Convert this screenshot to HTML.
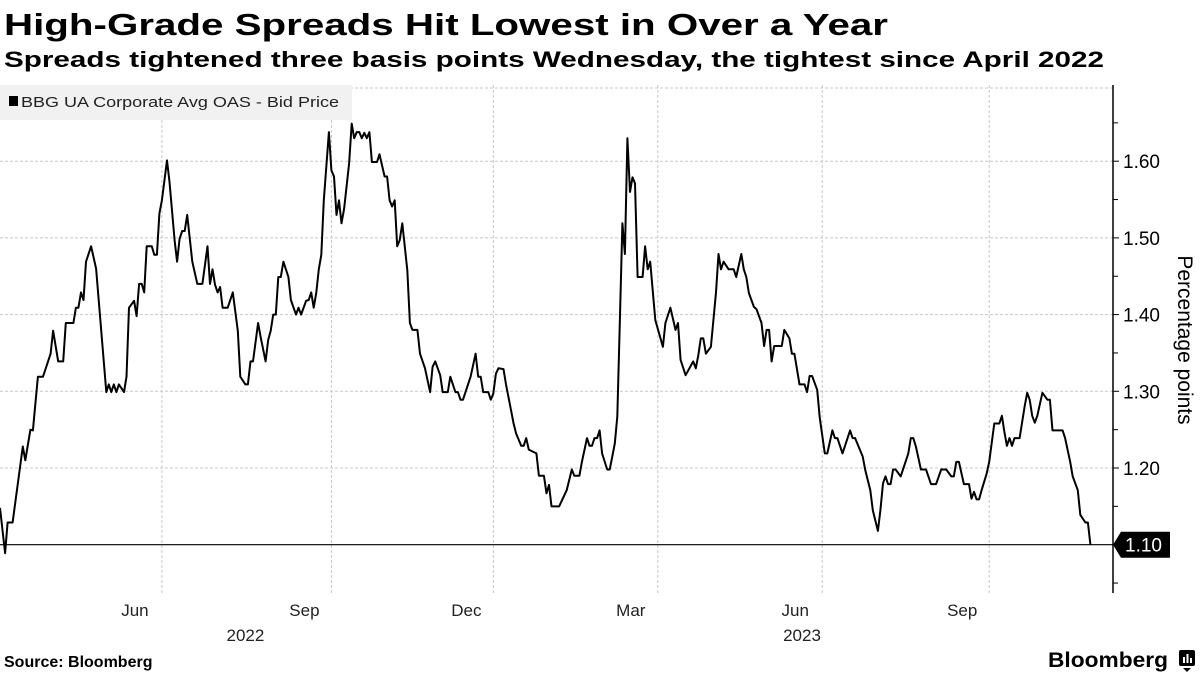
<!DOCTYPE html>
<html><head><meta charset="utf-8"><style>
html,body{margin:0;padding:0;background:#fff;}
svg{display:block;font-family:"Liberation Sans","DejaVu Sans",sans-serif;}
</style></head><body>
<svg id="chart" width="1200" height="675" viewBox="0 0 1200 675" xmlns="http://www.w3.org/2000/svg">
<text x="4" y="35" font-size="31" font-weight="bold" textLength="884" lengthAdjust="spacingAndGlyphs" fill="#000">High-Grade Spreads Hit Lowest in Over a Year</text>
<text x="4" y="67" font-size="22" font-weight="bold" textLength="1100" lengthAdjust="spacingAndGlyphs" fill="#000">Spreads tightened three basis points Wednesday, the tightest since April 2022</text>
<g id="grid"></g>
<rect x="0" y="85" width="352" height="35" fill="#f1f1f1"/>
<rect x="9" y="96" width="9" height="10" fill="#000"/>
<text x="21" y="107" font-size="15" fill="#222" textLength="318" lengthAdjust="spacingAndGlyphs">BBG UA Corporate Avg OAS - Bid Price</text>
<g id="axes"></g>
<path id="line" fill="none" stroke="#000" stroke-width="2" stroke-linejoin="round"/>
<g id="lastlabel"></g>
<text transform="translate(1178,340) rotate(90)" text-anchor="middle" font-size="21" fill="#000">Percentage points</text>
<text x="4" y="667" font-size="16" font-weight="bold" fill="#000">Source: Bloomberg</text>
<text x="1048" y="667" font-size="21" font-weight="bold" fill="#000" textLength="120" lengthAdjust="spacingAndGlyphs">Bloomberg</text>
<g><rect x="1179" y="650" width="16" height="16" rx="2" fill="#000"/><path d="M1183,668 L1187,672 L1191,668 Z" fill="#000"/><rect x="1183" y="657" width="2" height="6" fill="#fff"/><rect x="1186.5" y="654" width="2" height="9" fill="#fff"/><rect x="1190" y="658" width="2" height="5" fill="#fff"/></g>
</svg>
<script>
const days = [0,2,3,5,9,10,12,13,15,17,20,21,23,25,26,29,30,31,32,33,34,36,38,42,43,44,45,46,47,49,50,51,53,54,55,56,57,58,60,61,62,63,64,66,67,69,70,71,72,73,74,76,78,80,82,83,84,85,86,87,88,90,92,94,95,97,98,99,100,102,103,105,106,107,108,109,110,111,112,114,115,117,118,119,121,122,123,124,125,126,127,128,130,131,132,133,134,135,136,138,139,140,141,142,143,144,145,146,147,149,150,152,153,154,155,156,157,158,159,161,162,163,165,166,168,170,171,172,174,175,177,178,180,181,182,183,184,186,188,189,190,191,193,194,195,196,197,199,200,203,204,206,207,208,209,212,213,215,216,217,218,221,224,226,227,229,230,232,233,234,235,236,237,238,240,241,242,243,244,245,246,247,248,249,250,251,252,254,255,256,257,259,262,263,265,267,268,269,271,274,275,276,277,278,279,281,283,284,285,286,288,290,291,293,294,295,296,298,299,301,302,303,304,305,306,309,310,312,313,314,316,318,319,320,321,323,324,326,327,329,330,331,333,336,337,338,341,342,344,345,347,348,349,350,351,352,353,354,356,359,360,361,362,364,366,368,370,372,374,376,377,378,379,381,383,384,385,386,387,388,390,391,393,395,396,397,398,399,400,401,403,405,406,407,408,409,410,412,414,415,416,420,421,423,424,426,427,429,430,431];
const spread = [1.148,1.089,1.129,1.129,1.228,1.210,1.250,1.249,1.319,1.319,1.349,1.379,1.339,1.339,1.389,1.389,1.409,1.409,1.429,1.419,1.469,1.489,1.460,1.299,1.309,1.299,1.309,1.299,1.309,1.299,1.319,1.409,1.418,1.398,1.440,1.440,1.429,1.489,1.489,1.478,1.478,1.532,1.549,1.601,1.573,1.497,1.469,1.499,1.509,1.509,1.530,1.469,1.440,1.440,1.489,1.440,1.459,1.439,1.429,1.436,1.409,1.409,1.429,1.379,1.319,1.309,1.309,1.339,1.339,1.389,1.371,1.339,1.367,1.379,1.400,1.400,1.449,1.449,1.469,1.449,1.419,1.400,1.409,1.400,1.418,1.419,1.429,1.409,1.429,1.459,1.478,1.549,1.638,1.588,1.580,1.530,1.549,1.519,1.538,1.597,1.649,1.630,1.638,1.638,1.630,1.637,1.630,1.638,1.599,1.599,1.609,1.580,1.580,1.549,1.541,1.549,1.489,1.497,1.519,1.458,1.389,1.380,1.380,1.349,1.330,1.299,1.332,1.339,1.321,1.299,1.299,1.319,1.299,1.299,1.289,1.289,1.299,1.319,1.349,1.319,1.319,1.299,1.299,1.289,1.297,1.323,1.330,1.329,1.309,1.258,1.245,1.229,1.229,1.239,1.224,1.219,1.190,1.190,1.167,1.178,1.150,1.150,1.171,1.198,1.190,1.190,1.208,1.239,1.229,1.229,1.239,1.239,1.249,1.219,1.198,1.198,1.215,1.232,1.267,1.389,1.519,1.479,1.630,1.560,1.579,1.571,1.449,1.449,1.489,1.459,1.469,1.393,1.358,1.389,1.409,1.380,1.389,1.341,1.321,1.339,1.330,1.347,1.369,1.369,1.349,1.358,1.429,1.479,1.459,1.469,1.459,1.459,1.449,1.479,1.459,1.449,1.428,1.410,1.407,1.389,1.359,1.380,1.380,1.339,1.359,1.359,1.380,1.369,1.349,1.349,1.309,1.309,1.299,1.320,1.320,1.302,1.266,1.219,1.219,1.249,1.239,1.239,1.219,1.249,1.239,1.239,1.215,1.197,1.171,1.145,1.118,1.145,1.180,1.189,1.179,1.179,1.198,1.198,1.189,1.219,1.239,1.239,1.228,1.198,1.198,1.179,1.179,1.198,1.198,1.189,1.189,1.208,1.208,1.179,1.179,1.160,1.169,1.159,1.159,1.171,1.193,1.208,1.258,1.258,1.268,1.247,1.229,1.239,1.229,1.239,1.239,1.280,1.298,1.289,1.268,1.259,1.268,1.298,1.289,1.289,1.249,1.249,1.239,1.208,1.189,1.171,1.139,1.129,1.129,1.100];
const monthTicks = [64,131,195,260,325,391];
const monthLabels = ["Jun","Sep","Dec","Mar","Jun","Sep"];
const yearLabels = ["2022","2023"];
const yearLabelDays = [97,317];
const yTicks = [1.10,1.20,1.30,1.40,1.50,1.60];
const yMinorTicks = [1.05,1.15,1.25,1.35,1.45,1.55,1.65];

const NS="http://www.w3.org/2000/svg";
const xs = d => d*2.53;
const ys = v => 544.7-(v-1.10)*767;
const axisX=1113, plotTop=85, plotBottom=593;
function mk(tag, parent){const e=document.createElementNS(NS,tag);parent.appendChild(e);return e;}
const grid=document.getElementById('grid'), axes=document.getElementById('axes');
yTicks.forEach((t,i)=>{
  if(t>1.1001){
    const l=mk('line',grid);
    
    
    l.setAttribute('x1',0);l.setAttribute('x2',axisX);l.setAttribute('y1',ys(t));l.setAttribute('y2',ys(t));
    l.setAttribute('stroke','#c8c8c8');l.setAttribute('stroke-dasharray','3,2');l.setAttribute('stroke-width','1');
  }
  const tk=mk('line',axes);
  
  
  tk.setAttribute('x1',axisX);tk.setAttribute('x2',axisX+6);tk.setAttribute('y1',ys(t));tk.setAttribute('y2',ys(t));tk.setAttribute('stroke','#000');
  if(t>1.1001){
    const tx=mk('text',axes);
    
    
    tx.setAttribute('x',axisX+10);tx.setAttribute('y',ys(t)+7);tx.setAttribute('font-size','19');
    tx.textContent=t.toFixed(2);
  }
});
yMinorTicks.forEach(t=>{
  const tk=mk('line',axes);
  
  
  tk.setAttribute('x1',axisX);tk.setAttribute('x2',axisX+5);tk.setAttribute('y1',ys(t));tk.setAttribute('y2',ys(t));tk.setAttribute('stroke','#000');
});
{const l=mk('line',grid);


l.setAttribute('x1',0);l.setAttribute('x2',axisX);l.setAttribute('y1',88);l.setAttribute('y2',88);l.setAttribute('stroke','#c8c8c8');l.setAttribute('stroke-dasharray','3,2');}
monthTicks.forEach((d,i)=>{
  const l=mk('line',grid);
  
  
  l.setAttribute('x1',xs(d));l.setAttribute('x2',xs(d));l.setAttribute('y1',plotTop);l.setAttribute('y2',plotBottom);
  l.setAttribute('stroke','#c8c8c8');l.setAttribute('stroke-dasharray','3,2');
  const tx=mk('text',axes);
  
  
  tx.setAttribute('x',xs(d)-27);tx.setAttribute('y',616);tx.setAttribute('font-size','17');tx.setAttribute('text-anchor','middle');tx.setAttribute('fill','#222');
  tx.textContent=monthLabels[i];
});
yearLabels.forEach((y,i)=>{
  const tx=mk('text',axes);
  
  
  tx.setAttribute('x',xs(yearLabelDays[i]));tx.setAttribute('y',641);tx.setAttribute('font-size','17');tx.setAttribute('text-anchor','middle');tx.setAttribute('fill','#222');
  tx.textContent=y;
});
{const a=mk('line',axes);


a.setAttribute('x1',axisX);a.setAttribute('x2',axisX);a.setAttribute('y1',plotTop);a.setAttribute('y2',plotBottom);a.setAttribute('stroke','#000');a.setAttribute('stroke-width','1.5');}
const last=spread[spread.length-1];
{const b=mk('line',axes);


b.setAttribute('x1',0);b.setAttribute('x2',axisX);b.setAttribute('y1',ys(last));b.setAttribute('y2',ys(last));b.setAttribute('stroke','#000');b.setAttribute('stroke-width','1.2');}
document.getElementById('line').setAttribute('d',days.map((d,i)=>(i?'L':'M')+xs(d).toFixed(1)+','+ys(spread[i]).toFixed(1)).join(''));
const ll=document.getElementById('lastlabel');
const ly=ys(last);
const p=mk('path',ll);


p.setAttribute('d',`M${axisX},${ly} L${axisX+8},${ly-13} L${axisX+57},${ly-13} L${axisX+57},${ly+13} L${axisX+8},${ly+13} Z`);
p.setAttribute('fill','#000');
const lt=mk('text',ll);


lt.setAttribute('x',axisX+12);lt.setAttribute('y',ly+7);lt.setAttribute('font-size','19');lt.setAttribute('fill','#fff');
lt.textContent=last.toFixed(2);
</script>
</body></html>
